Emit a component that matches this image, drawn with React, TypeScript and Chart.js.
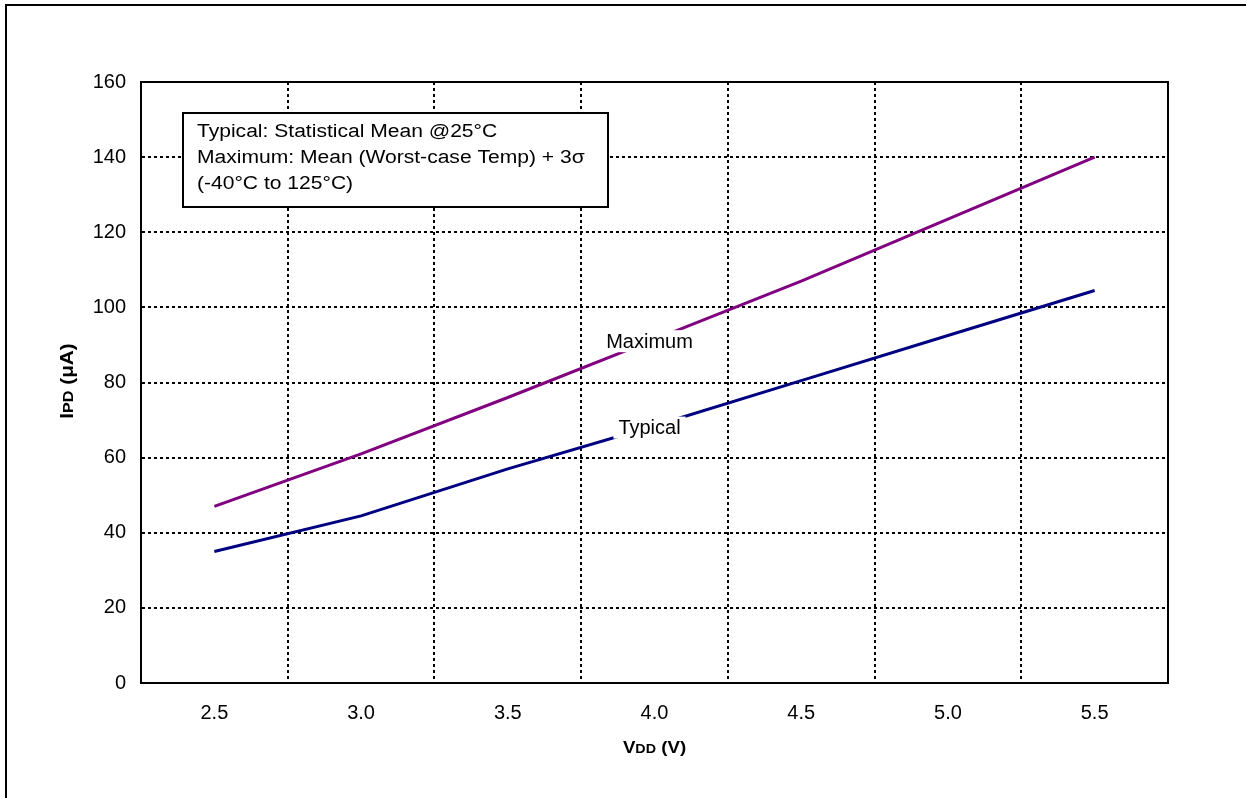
import React, { useEffect, useRef } from "react";
import { Chart, registerables } from "chart.js";

Chart.register(...registerables);

const categories = ["2.5", "3.0", "3.5", "4.0", "4.5", "5.0", "5.5"];
const typicalValues = [35, 44.5, 57, 68.5, 80.5, 92.5, 104.5];
const maximumValues = [47, 61, 76, 91.5, 107, 123.5, 140];
const yTicks = [0, 20, 40, 60, 80, 100, 120, 140, 160];
const noteLines = [
  "Typical: Statistical Mean @25°C",
  "Maximum: Mean (Worst-case Temp) + 3σ",
  "(-40°C to 125°C)",
];

const FONT = "'Liberation Sans', Arial, sans-serif";

function drawSubTitle(ctx: any, parts: [string, number][], stretch: number) {
  // draws text parts centered at origin along x, baseline at 0
  const widths = parts.map(([t, size]) => {
    ctx.font = `bold ${size}px ${FONT}`;
    return ctx.measureText(t).width;
  });
  const total = widths.reduce((a, b) => a + b, 0);
  ctx.save();
  ctx.scale(stretch, 1);
  let s = -total / 2;
  parts.forEach(([t, size], i) => {
    ctx.font = `bold ${size}px ${FONT}`;
    ctx.fillText(t, s, 0);
    s += widths[i];
  });
  ctx.restore();
}

const overlayPlugin = {
  id: "overlay",
  afterDatasetsDraw(chart: any) {
    const ctx = chart.ctx;
    const x = chart.scales.x;
    const y = chart.scales.y;
    ctx.save();
    ctx.font = `20px ${FONT}`;
    ctx.textAlign = "center";
    ctx.textBaseline = "middle";
    const cx = x.getPixelForValue(3) - 5;
    const labels = [
      { t: "Maximum", cx, cy: y.getPixelForValue(91) },
      { t: "Typical", cx, cy: y.getPixelForValue(68) },
    ];
    for (const l of labels) {
      const w = ctx.measureText(l.t).width + 10;
      ctx.fillStyle = "#fff";
      ctx.fillRect(l.cx - w / 2, l.cy - 11, w, 22);
      ctx.fillStyle = "#000";
      ctx.fillText(l.t, l.cx, l.cy + 1);
    }
    ctx.restore();
  },
  afterDraw(chart: any) {
    const ctx = chart.ctx;
    const a = chart.chartArea;
    ctx.save();
    ctx.strokeStyle = "#000";
    ctx.lineWidth = 2;
    ctx.strokeRect(a.left, a.top, a.right - a.left, a.bottom - a.top);
    // note box
    const bx = a.left + 42;
    const by = a.top + 31;
    const bw = 425;
    const bh = 94;
    ctx.fillStyle = "#fff";
    ctx.fillRect(bx, by, bw, bh);
    ctx.lineWidth = 2;
    ctx.strokeRect(bx, by, bw, bh);
    ctx.fillStyle = "#000";
    ctx.textAlign = "left";
    ctx.textBaseline = "alphabetic";
    ctx.save();
    ctx.translate(bx + 14, by);
    ctx.scale(1.17, 1);
    ctx.font = `18px ${FONT}`;
    noteLines.forEach((t, i) => ctx.fillText(t, 0, 24 + i * 26));
    ctx.restore();
    // x axis title
    ctx.save();
    ctx.translate((a.left + a.right) / 2, 753);
    drawSubTitle(ctx, [["V", 17], ["DD", 13], [" (V)", 17]], 1.1);
    ctx.restore();
    // y axis title
    ctx.save();
    ctx.translate(73, 381);
    ctx.rotate(-Math.PI / 2);
    drawSubTitle(ctx, [["I", 18], ["PD", 14], [" (μA)", 18]], 1.15);
    ctx.restore();
    ctx.restore();
  },
};

export default function App() {
  const ref = useRef<HTMLCanvasElement>(null);
  useEffect(() => {
    const chart = new Chart(ref.current!, {
      type: "line",
      data: {
        labels: categories,
        datasets: [
          {
            label: "Maximum",
            data: maximumValues,
            borderColor: "#800080",
            borderWidth: 3,
            pointRadius: 0,
            tension: 0,
          },
          {
            label: "Typical",
            data: typicalValues,
            borderColor: "#000080",
            borderWidth: 3,
            pointRadius: 0,
            tension: 0,
          },
        ],
      },
      options: {
        responsive: false,
        animation: false,
        layout: { padding: { top: 82, right: 78, left: 0, bottom: 0 } },
        plugins: { legend: { display: false }, tooltip: { enabled: false } },
        scales: {
          x: {
            type: "category",
            offset: true,
            grid: {
              offset: true,
              color: "#000",
              lineWidth: 2,
              drawTicks: false,
            },
            border: { display: true, color: "#000", width: 2, dash: [3, 3] },
            ticks: {
              color: "#000",
              font: { family: FONT, size: 20 },
              padding: 18,
              maxRotation: 0,
            },
            afterFit: (s: any) => {
              s.height = 115;
            },
          },
          y: {
            min: 0,
            max: 160,
            afterBuildTicks: (s: any) => {
              s.ticks = yTicks.map((v) => ({ value: v }));
            },
            grid: { color: "#000", lineWidth: 2, drawTicks: false },
            border: { display: true, color: "#000", width: 2, dash: [3, 3] },
            ticks: {
              color: "#000",
              font: { family: FONT, size: 20 },
              padding: 15,
            },
            afterFit: (s: any) => {
              s.width = 141;
            },
          },
        },
      },
      plugins: [overlayPlugin],
    } as any);
    return () => chart.destroy();
  }, []);
  return (
    <div
      style={{
        position: "fixed",
        left: 0,
        top: 0,
        width: 1246,
        height: 798,
        overflow: "hidden",
        background: "#fff",
      }}
    >
      <div
        style={{
          position: "absolute",
          left: 5,
          top: 4,
          width: 1400,
          height: 1000,
          border: "2px solid #000",
        }}
      />
      <canvas
        ref={ref}
        width={1246}
        height={798}
        style={{ position: "absolute", left: 0, top: 0 }}
      />
    </div>
  );
}
